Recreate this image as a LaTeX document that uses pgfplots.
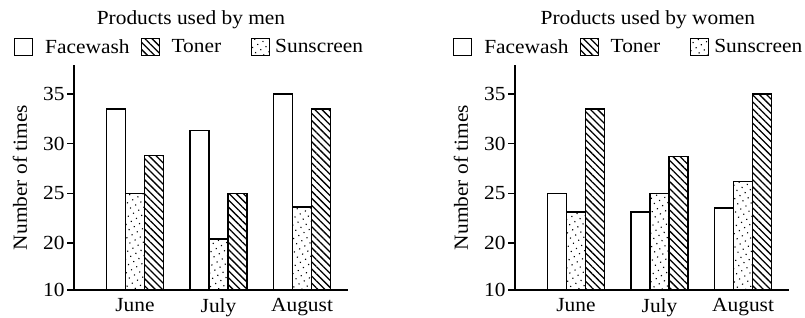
\documentclass[border=0pt]{standalone}
\usepackage{pgfplots}
\pgfplotsset{compat=1.18}
\usepackage{fontspec}
\setmainfont[FakeStretch=1.07]{Liberation Serif}
\usetikzlibrary{patterns.meta}

\pgfplotstableread{
x face sun toner
0 33.5 25.0 28.8
1 31.3 20.4 25.0
2 35.0 23.6 33.5
}\men
\pgfplotstableread{
x face sun toner
0 25.0 23.1 33.5
1 23.1 25.0 28.7
2 23.5 26.2 35.0
}\women

\pgfplotsset{
  panel/.style={
    scale only axis, width=274pt, height=225pt,
    font=\fontsize{20}{23}\selectfont,
    xmin=-0.73, xmax=2.55, ymin=15.25, ymax=37.92,
    axis lines=left, axis line style={-, line width=1.4pt},
    ytick={15.25,20,25,30,35}, yticklabels={10,20,25,30,35},
    xtick={0,1,2}, xticklabels={June,July,August},
    x tick style={draw=none},
    y tick style={line width=1.4pt, black},
    tick align=outside, major tick length=7pt,
    yticklabel style={/pgf/number format/assume math mode=true, xshift=1pt},
    xticklabel style={yshift=2pt},
    ylabel={Number of times},
    every axis y label/.style={at={(axis description cs:-0.197,0.5)}, rotate=90, anchor=center},
    legend columns=3,
    legend image code/.code={\draw[##1, line width=1pt] (0pt,-8.5pt) rectangle (18pt,8.5pt);},
    legend style={draw=none, fill=none, inner sep=0pt, anchor=west,
      font=\fontsize{20}{23}\selectfont,
      /tikz/column 1/.style={column sep=10pt},
      /tikz/column 2/.style={column sep=9pt},
      /tikz/column 3/.style={column sep=10pt},
      /tikz/column 4/.style={column sep=28pt},
      /tikz/column 5/.style={column sep=3pt}},
  },
  face/.style={ybar, bar width=19pt, bar shift=-19pt, draw=black, line width=1.3pt, fill=white},
  ton/.style={ybar, bar width=19pt, bar shift=19pt, draw=black, line width=1.3pt, fill=white,
    postaction={pattern={Lines[angle=-45, distance=5pt, line width=1.3pt]}}},
  sun/.style={ybar, bar width=19pt, bar shift=0pt, draw=black, line width=1.3pt, fill=white,
    postaction={pattern={Dots[distance=6pt, radius=0.8pt, angle=30]}}},
}

\begin{document}
\begin{tikzpicture}
\useasboundingbox (0,0) rectangle (805pt,-318pt);
\begin{axis}[panel, at={(74pt,-290pt)}, anchor=south west,
  title={Products used by men},
  title style={at={(axis description cs:0.427,1.173)}, anchor=center},
  legend style={at={(axis description cs:-0.219,1.08)}}]
\addplot[face] table[x=x, y=face] {\men};
\addlegendentry{Facewash}
\addplot[ton] table[x=x, y=toner] {\men};
\addlegendentry{Toner}
\addplot[sun] table[x=x, y=sun] {\men};
\addlegendentry{Sunscreen}
\end{axis}
\begin{axis}[panel, at={(515pt,-290pt)}, anchor=south west,
  title={Products used by women},
  title style={at={(axis description cs:0.485,1.173)}, anchor=center},
  legend style={at={(axis description cs:-0.226,1.08)}}]
\addplot[face] table[x=x, y=face] {\women};
\addlegendentry{Facewash}
\addplot[ton] table[x=x, y=toner] {\women};
\addlegendentry{Toner}
\addplot[sun] table[x=x, y=sun] {\women};
\addlegendentry{Sunscreen}
\end{axis}
\end{tikzpicture}
\end{document}
